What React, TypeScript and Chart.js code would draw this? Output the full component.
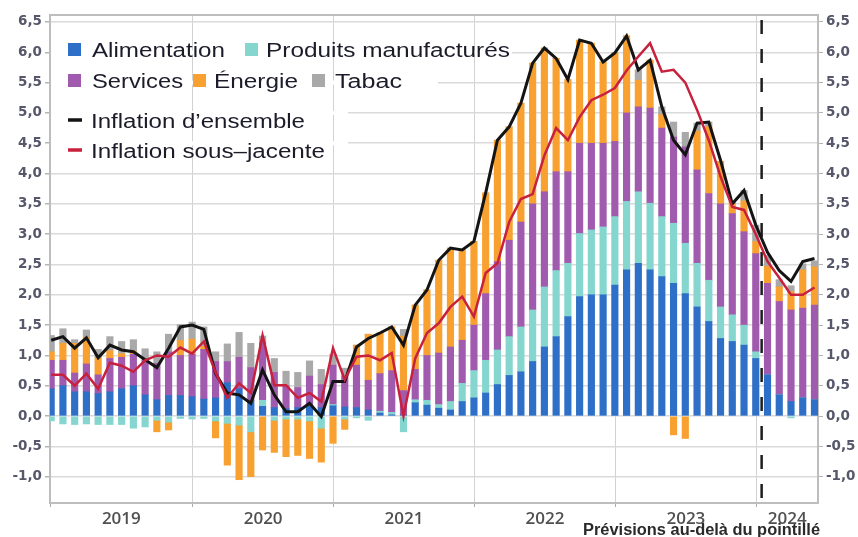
import React, { useEffect, useRef } from 'react';
import { Chart, registerables } from 'chart.js';

Chart.register(...registerables);

// Monthly contributions (points of %), January 2019 to June 2024
const alimentation = [
  0.45, 0.50, 0.40, 0.40, 0.37, 0.40, 0.45, 0.50, 0.35, 0.27, 0.34, 0.34,
  0.32, 0.28, 0.30, 0.55, 0.45, 0.25, 0.16, 0.14, 0.12, 0.14, 0.16, 0.14,
  0.17, 0.15, 0.14, 0.10, 0.05, 0.02, 0.02, 0.22, 0.18, 0.13, 0.10, 0.24,
  0.30, 0.38, 0.52, 0.67, 0.73, 0.90, 1.14, 1.31, 1.64, 1.97, 2.00, 2.00,
  2.16, 2.41, 2.52, 2.41, 2.30, 2.19, 2.02, 1.80, 1.56, 1.28, 1.23, 1.17,
  0.95, 0.68, 0.35, 0.24, 0.30, 0.27,
];
const produitsManufactures = [
  -0.08, -0.13, -0.14, -0.13, -0.14, -0.14, -0.14, -0.20, -0.18, -0.07, -0.10, -0.04,
  -0.05, -0.04, -0.08, -0.12, -0.15, -0.26, 0.10, -0.07, -0.05, -0.05, -0.08, -0.20,
  0.02, -0.05, -0.03, -0.07, 0.03, 0.04, -0.26, 0.05, 0.08, 0.06, 0.14, 0.30,
  0.45, 0.54, 0.57, 0.64, 0.74, 0.85, 0.99, 1.09, 0.88, 1.04, 1.07, 1.12,
  1.13, 1.13, 1.18, 1.10, 0.99, 0.99, 0.83, 0.72, 0.68, 0.52, 0.44, 0.33,
  0.11, 0.00, 0.00, -0.03, 0.00, 0.00,
];
const services = [
  0.47, 0.42, 0.31, 0.46, 0.31, 0.55, 0.52, 0.52, 0.57, 0.60, 0.72, 0.66,
  0.70, 0.82, 0.60, 0.35, 0.52, 0.55, 0.95, 0.58, 0.38, 0.33, 0.50, 0.38,
  0.65, 0.50, 0.70, 0.49, 0.62, 0.69, 0.40, 0.50, 0.74, 0.85, 0.90, 0.71,
  0.75, 1.10, 1.46, 1.59, 1.73, 1.75, 1.57, 1.63, 1.51, 1.49, 1.43, 1.38,
  1.24, 1.46, 1.40, 1.57, 1.46, 1.42, 1.59, 1.54, 1.43, 1.70, 1.67, 1.54,
  1.62, 1.51, 1.54, 1.51, 1.48, 1.56,
];
const energie = [
  0.14, 0.28, 0.49, 0.44, 0.28, 0.13, 0.06, 0.05, 0.00, -0.19, -0.13, 0.25,
  0.25, 0.05, -0.28, -0.69, -0.90, -0.74, -0.56, -0.53, -0.62, -0.60, -0.62, -0.56,
  -0.45, -0.17, 0.33, 0.76, 0.67, 0.72, 0.90, 1.06, 1.08, 1.53, 1.63, 1.49,
  1.38, 1.66, 2.00, 1.87, 1.96, 2.32, 2.37, 1.87, 1.52, 1.70, 1.65, 1.34,
  1.46, 1.27, 0.44, 0.79, 0.22, -0.31, -0.37, 0.64, 1.10, 0.70, 0.20, 0.51,
  0.20, 0.28, 0.24, 0.30, 0.63, 0.63,
];
const tabac = [
  0.27, 0.24, 0.06, 0.12, 0.14, 0.23, 0.20, 0.19, 0.19, 0.19, 0.29, 0.26,
  0.28, 0.32, 0.16, 0.29, 0.41, 0.40, 0.11, 0.23, 0.24, 0.25, 0.25, 0.25,
  0.18, 0.14, 0.00, 0.00, 0.00, 0.00, 0.11, 0.00, 0.00, 0.00, 0.00, 0.00,
  0.00, 0.00, 0.00, 0.00, 0.00, 0.00, 0.00, 0.00, 0.00, 0.00, 0.00, 0.00,
  0.00, 0.00, 0.17, 0.00, 0.13, 0.25, 0.24, 0.13, 0.08, 0.00, 0.00, 0.17,
  0.27, 0.18, 0.12, 0.10, 0.10, 0.10,
];
const inflationEnsemble = [
  1.25, 1.31, 1.12, 1.29, 0.96, 1.17, 1.09, 1.06, 0.93, 0.80, 1.12, 1.47,
  1.50, 1.43, 0.70, 0.38, 0.35, 0.21, 0.76, 0.35, 0.07, 0.07, 0.21, -0.01,
  0.57, 0.57, 1.14, 1.28, 1.37, 1.47, 1.17, 1.83, 2.08, 2.57, 2.77, 2.74,
  2.88, 3.68, 4.55, 4.77, 5.16, 5.82, 6.07, 5.90, 5.55, 6.20, 6.15, 5.84,
  5.99, 6.27, 5.71, 5.87, 5.10, 4.55, 4.31, 4.83, 4.85, 4.22, 3.50, 3.72,
  3.15, 2.70, 2.40, 2.22, 2.55, 2.60,
];
const inflationSousJacente = [
  0.68, 0.68, 0.50, 0.70, 0.45, 0.88, 0.83, 0.73, 0.92, 1.00, 0.98, 1.13,
  1.03, 1.23, 0.72, 0.30, 0.54, 0.38, 1.33, 0.51, 0.51, 0.30, 0.38, 0.24,
  1.12, 0.60, 0.98, 1.00, 0.92, 1.04, 0.00, 0.95, 1.37, 1.53, 1.80, 1.97,
  1.64, 2.36, 2.52, 3.20, 3.58, 3.66, 4.30, 4.75, 4.55, 4.93, 5.21, 5.30,
  5.41, 5.70, 5.93, 6.15, 5.68, 5.71, 5.50, 5.05, 4.55, 3.95, 3.45, 3.40,
  3.00, 2.55, 2.28, 2.00, 2.00, 2.12,
];

const yearLabels = ['2019', '2020', '2021', '2022', '2023', '2024'];
const yTickValues = [-1, -0.5, 0, 0.5, 1, 1.5, 2, 2.5, 3, 3.5, 4, 4.5, 5, 5.5, 6, 6.5];
const forecastStartIndex = 60.5; // forecasts after January 2024

const COLORS = {
  alim: '#2e6fc8',
  manuf: '#84d6cf',
  services: '#a15bae',
  energie: '#f8a130',
  tabac: '#a9a9a9',
  ensemble: '#141414',
  sousJacente: '#c8213e',
};

const X_MIN = -0.1;
const X_MAX = 65.3;
const Y_MIN = -1.434;
const Y_MAX = 6.615;

type XTick = { value: number; label: string; boundary: boolean };
const xTicks: XTick[] = [];
yearLabels.forEach((lab, k) => {
  const start = k === 0 ? X_MIN : 12 * k + 0.05;
  const end = k === yearLabels.length - 1 ? X_MAX : 12 * (k + 1) + 0.05;
  xTicks.push({ value: start, label: '', boundary: true });
  xTicks.push({ value: (start + end) / 2, label: lab, boundary: false });
});

const toPoints = (arr: number[]) => arr.map((v, i) => ({ x: i, y: v }));
const fmt = (v: number) => v.toFixed(1).replace('.', ',');

function fitText(ctx: CanvasRenderingContext2D, text: string, x: number, y: number, width: number) {
  const w = ctx.measureText(text).width;
  const s = width / w;
  ctx.save();
  ctx.translate(x, y);
  ctx.scale(s, 1);
  ctx.fillText(text, 0, 0);
  ctx.restore();
}

const overlayPlugin = {
  id: 'overlay',
  beforeDatasetsDraw(chart: any) {
    const { ctx, chartArea: a, scales } = chart;
    ctx.save();
    // hide horizontal gridlines behind the legend
    ctx.fillStyle = '#ffffff';
    const masks: [number, number][] = [[6, 512], [5.5, 438], [5, 348], [4.5, 348]];
    masks.forEach(([v, xEnd]) => {
      const py = scales.y.getPixelForValue(v);
      ctx.fillRect(a.left + 1, py - 2, xEnd - a.left - 1, 4);
    });
    // frame
    ctx.strokeStyle = '#bdbdbd';
    ctx.lineWidth = 2;
    ctx.strokeRect(a.left, a.top, a.right - a.left, a.bottom - a.top);
    // forecast separator
    const fx = scales.x.getPixelForValue(forecastStartIndex);
    ctx.strokeStyle = '#1e1e1e';
    ctx.lineWidth = 2.5;
    ctx.setLineDash([14, 15]);
    ctx.beginPath();
    ctx.moveTo(fx, a.top + 5);
    ctx.lineTo(fx, a.bottom + 2);
    ctx.stroke();
    ctx.restore();
  },
  afterDraw(chart: any) {
    const { ctx } = chart;
    ctx.save();
    ctx.font = '20px "Liberation Sans", Arial, sans-serif';
    ctx.textBaseline = 'alphabetic';
    ctx.textAlign = 'left';
    const boxes = [
      { color: COLORS.alim, sx: 68, sy: 43, tx: 92, ty: 56.5, w: 133, label: 'Alimentation' },
      { color: COLORS.manuf, sx: 245, sy: 43, tx: 266, ty: 56.5, w: 244, label: 'Produits manufacturés' },
      { color: COLORS.services, sx: 68, sy: 74, tx: 92, ty: 87.5, w: 91, label: 'Services' },
      { color: COLORS.energie, sx: 193, sy: 74, tx: 214, ty: 87.5, w: 84, label: 'Énergie' },
      { color: COLORS.tabac, sx: 312, sy: 74, tx: 335, ty: 87.5, w: 67, label: 'Tabac' },
    ];
    boxes.forEach((b) => {
      ctx.fillStyle = b.color;
      ctx.fillRect(b.sx, b.sy, 13, 13);
      ctx.fillStyle = '#1b1b2a';
      fitText(ctx, b.label, b.tx, b.ty, b.w);
    });
    const lines = [
      { color: COLORS.ensemble, y: 120, ty: 127.5, w: 214, label: 'Inflation d’ensemble' },
      { color: COLORS.sousJacente, y: 150, ty: 157.5, w: 234, label: 'Inflation sous–jacente' },
    ];
    lines.forEach((l) => {
      ctx.fillStyle = l.color;
      ctx.fillRect(68, l.y - 1.75, 14, 3.5);
      ctx.fillStyle = '#1b1b2a';
      fitText(ctx, l.label, 91, l.ty, l.w);
    });
    ctx.font = 'bold 16px "Liberation Sans", Arial, sans-serif';
    ctx.fillStyle = '#2a2a2a';
    fitText(ctx, 'Prévisions au-delà du pointillé', 583, 534.5, 237);
    ctx.restore();
  },
};

export default function App() {
  const ref = useRef<HTMLCanvasElement | null>(null);

  useEffect(() => {
    if (!ref.current) return;
    const bar = (label: string, data: number[], color: string) => ({
      type: 'bar' as const,
      label,
      data: toPoints(data),
      backgroundColor: color,
      borderWidth: 0,
      barThickness: 6.5,
      xAxisID: 'x',
      yAxisID: 'y',
      stack: 'contrib',
      order: 10,
    });
    const yTickFont = { family: '"DejaVu Sans", sans-serif', size: 13.5, weight: 'bold' as const };
    const chart = new Chart(ref.current, {
      type: 'bar',
      data: {
        datasets: [
          bar('Alimentation', alimentation, COLORS.alim),
          bar('Produits manufacturés', produitsManufactures, COLORS.manuf),
          bar('Services', services, COLORS.services),
          bar('Énergie', energie, COLORS.energie),
          bar('Tabac', tabac, COLORS.tabac),
          {
            type: 'line' as const,
            label: 'Inflation d’ensemble',
            data: toPoints(inflationEnsemble),
            borderColor: COLORS.ensemble,
            borderWidth: 3,
            pointRadius: 0,
            tension: 0,
            xAxisID: 'x',
            yAxisID: 'y1',
            order: 2,
          },
          {
            type: 'line' as const,
            label: 'Inflation sous–jacente',
            data: toPoints(inflationSousJacente),
            borderColor: COLORS.sousJacente,
            borderWidth: 2.5,
            pointRadius: 0,
            tension: 0,
            xAxisID: 'x',
            yAxisID: 'y1',
            order: 1,
          },
        ] as any,
      },
      options: {
        responsive: false,
        animation: false,
        devicePixelRatio: 1,
        layout: { padding: { top: 15, left: 0, right: 0, bottom: 0 } },
        plugins: { legend: { display: false }, tooltip: { enabled: false } },
        scales: {
          x: {
            type: 'linear',
            min: X_MIN,
            max: X_MAX,
            stacked: true,
            offset: false,
            afterBuildTicks: (s: any) => {
              s.ticks = xTicks.map((t) => ({ value: t.value }));
            },
            afterFit: (s: any) => {
              s.height = 34;
            },
            ticks: {
              autoSkip: false,
              maxRotation: 0,
              padding: 2,
              color: '#505050',
              font: { family: '"Open Sans", sans-serif', size: 17, weight: 600 },
              callback: (_v: any, i: number) => (xTicks[i] ? xTicks[i].label : ''),
            },
            grid: {
              offset: false,
              lineWidth: 1,
              tickLength: 4,
              color: (c: any) => (xTicks[c.index] && xTicks[c.index].boundary ? '#d2d2d2' : 'rgba(0,0,0,0)'),
              tickColor: (c: any) => (xTicks[c.index] && xTicks[c.index].boundary ? '#aaaaaa' : 'rgba(0,0,0,0)'),
            },
            border: { display: false },
          },
          y: {
            type: 'linear',
            position: 'left',
            stacked: true,
            min: Y_MIN,
            max: Y_MAX,
            afterBuildTicks: (s: any) => {
              s.ticks = yTickValues.map((v) => ({ value: v }));
            },
            afterFit: (s: any) => {
              s.width = 50;
            },
            ticks: { padding: 3, color: '#56576a', font: yTickFont, callback: (v: any) => fmt(Number(v)) },
            grid: { color: '#dadada', lineWidth: 1.5, tickLength: 5, tickColor: '#b5b5b5' },
            border: { display: false },
          },
          y1: {
            type: 'linear',
            position: 'right',
            stacked: false,
            min: Y_MIN,
            max: Y_MAX,
            afterBuildTicks: (s: any) => {
              s.ticks = yTickValues.map((v) => ({ value: v }));
            },
            afterFit: (s: any) => {
              s.width = 40;
            },
            ticks: { padding: 3, color: '#56576a', font: yTickFont, callback: (v: any) => fmt(Number(v)) },
            grid: { drawOnChartArea: false, tickLength: 5, tickColor: '#b5b5b5' },
            border: { display: false },
          },
        },
      } as any,
      plugins: [overlayPlugin],
    });
    return () => chart.destroy();
  }, []);

  return (
    <div style={{ position: 'absolute', left: 0, top: 0, width: 858, height: 537, background: '#ffffff' }}>
      <canvas ref={ref} width={858} height={537} style={{ width: 858, height: 537, display: 'block' }} />
    </div>
  );
}
